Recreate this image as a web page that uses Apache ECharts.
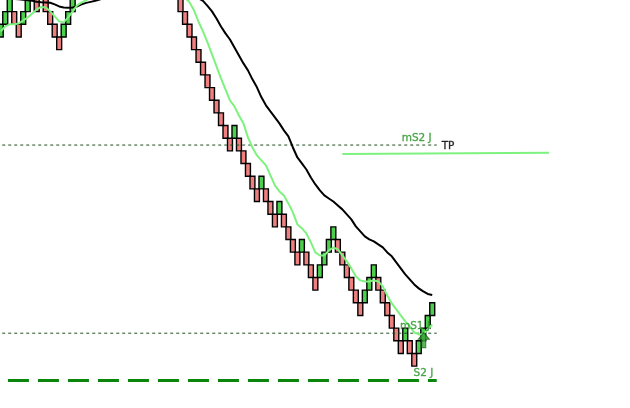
<!DOCTYPE html>
<html><head><meta charset="utf-8">
<script src="https://cdn.jsdelivr.net/npm/echarts@6/dist/echarts.min.js"></script>
<style>html,body{margin:0;padding:0;background:#fff;}#c{width:630px;height:408px;}</style>
</head><body><div id="c"></div>
<script>
// Renko bricks: bottom level of each brick (in brick units) and direction (G up / R down)
const brickLevel = [
  26,27,28,27,26,27,28,29,28,29,28,27,26,25,26,27,28,
  29,30,31,30,31,32,33,32,31,32,33,32,31,30,31,30,31,30,31,30,31,30,29,
  28,27,26,25,24,23,22,21,20,19,18,17,18,17,16,15,14,13,14,13,12,11,12,11,10,9,8,9,8,7,6,7,8,9,10,9,8,7,6,5,4,5,6,7,6,5,4,3,2,1,2,1,0,1,2,3,4
];
const brickDir = (
  'GGGRRGGGRGRRRRGGG' +
  'GGGRGGGRRGGRRRGRGRGRGRR' +
  'RRRRRRRRRRRRGRRRRRGRRRGRRRRGRRRGGGGRRRRRRGGGRRRRRRGRRGGGG'
).split('');
// fast moving average (light green)
const fastLine = [
  26.44,26.83,27.0,27.0,27.07,27.3,27.54,27.86,28.17,28.37,28.33,28.02,27.62,27.23,27.15,27.54,28.02,28.49,28.73,28.89,
  29.2,29.5,29.9,30.3,30.6,30.9,31.2,31.5,31.7,31.8,31.8,31.6,31.4,31.1,30.9,30.7,30.5,30.2,30.0,29.8,29.5,29.1,
  28.73,28.1,27.2,26.44,25.57,24.62,23.67,22.72,21.85,20.99,20.51,19.8,19.17,18.06,17.27,16.64,16.25,15.85,15.06,14.27,
  13.8,13.48,12.85,12.14,11.19,10.88,10.48,9.77,8.98,8.74,8.74,9.14,9.37,9.22,8.74,8.27,7.72,7.09,6.77,6.69,
  6.69,6.77,6.69,6.3,5.58,4.95,4.48,4.0,3.53,3.14,2.66,2.5,2.5,2.9,3.29
];
// slow moving average (black)
const slowLine = [
  29.3,29.2,29.1,29.0,
  28.97,28.93,28.89,28.85,28.78,28.74,28.73,28.7,28.57,28.41,28.33,28.31,28.33,28.41,28.57,28.69,28.77,28.85,28.95,
  29.1,29.3,29.5,29.7,29.9,30.1,30.3,30.5,30.6,30.7,30.8,30.8,30.8,30.7,30.6,30.5,30.3,30.1,29.9,29.6,29.3,29.05,
  28.85,28.45,28.02,27.46,26.83,26.28,25.8,25.17,24.54,23.91,23.36,22.65,22.02,21.23,20.6,20.12,19.65,19.17,18.62,18.15,
  17.27,16.48,16.01,15.53,14.9,14.35,13.88,13.48,13.24,13.0,12.69,12.38,11.98,11.59,11.04,10.64,10.25,10.01,9.85,9.61,
  9.38,8.98,8.67,8.19,7.72,7.25,6.85,6.45,6.14,5.9,5.7,5.62
];
// horizontal levels
const levelMS2 = 17.46;
const levelMS1 = 2.6;
const levelS2 = -1.14;
const levelTP = [16.75, 16.85];
const tpRange = [76, 122];
const levelEnd = 97;
const labelTexts = ['mS2 J', 'TP', 'mS1 J', 'S2 J'];
const buySignal = [94.13, 2.04];

const GREEN_FILL = '#4ccf4c', RED_FILL = '#f08080';
const bricks = brickLevel.map((lv, i) => [i, lv, brickDir[i] === 'G' ? 1 : 0]);

const chart = echarts.init(document.getElementById('c'), null, {renderer: 'canvas'});
const textGreen = '#2a962a';
const labelFont = {fontFamily: 'DejaVu Sans', fontSize: 10.5};

function lbl(text, color, align) {
  return {formatter: text, align: align, color: color, textBorderColor: color, textBorderWidth: 0.35};
}

chart.setOption({
  animation: false,
  backgroundColor: '#fff',
  grid: {left: 0, right: 0, top: 0, bottom: 0},
  xAxis: {type: 'value', min: -0.165, max: 140, show: false},
  yAxis: {type: 'value', min: -3.309, max: 28.918, show: false},
  series: [
    { type: 'custom', z: 2, silent: true, clip: true,
      data: bricks,
      renderItem(params, api) {
        const i = api.value(0), lo = api.value(1), up = api.value(2);
        const p0 = api.coord([i - 0.55, lo + 1]);
        const p1 = api.coord([i + 0.55, lo]);
        return {type: 'rect',
          shape: {x: p0[0], y: p0[1], width: p1[0] - p0[0], height: p1[1] - p0[1]},
          style: {fill: up ? GREEN_FILL : RED_FILL, stroke: '#000', lineWidth: 1.4}};
      }
    },
    { type: 'line', z: 3, silent: true, showSymbol: false, symbol: 'none',
      data: [[-1, levelMS2], [levelEnd, levelMS2]],
      lineStyle: {color: '#1d4d1d', width: 1, type: [3, 3]} },
    { type: 'line', z: 3, silent: true, showSymbol: false, symbol: 'none',
      data: [[-1, levelMS1], [levelEnd, levelMS1]],
      lineStyle: {color: '#1d4d1d', width: 1, type: [3, 3]} },
    { type: 'line', z: 3, silent: true, showSymbol: false, symbol: 'none',
      data: [[1.6, levelS2], [levelEnd, levelS2]],
      lineStyle: {color: '#0a870a', width: 3, type: [21, 9]} },
    { type: 'line', z: 3, silent: true, showSymbol: false, symbol: 'none',
      data: [[tpRange[0], levelTP[0]], [tpRange[1], levelTP[1]]],
      lineStyle: {color: '#7ef27e', width: 2} },
    { type: 'line', z: 4, silent: true, showSymbol: false, symbol: 'none',
      data: slowLine.map((v, i) => [i, v]),
      lineStyle: {color: '#000', width: 2} },
    { type: 'line', z: 5, silent: true, showSymbol: false, symbol: 'none',
      data: fastLine.map((v, i) => [i, v]),
      lineStyle: {color: '#7ef27e', width: 2} },
    { type: 'scatter', z: 6, silent: true,
      symbol: 'path://M5.5,0 L11,6 L7.5,6 L7.5,14 L3.5,14 L3.5,6 L0,6 Z',
      symbolSize: [11, 15],
      itemStyle: {color: '#35a335', borderColor: '#1a5e1a', borderWidth: 1},
      data: [buySignal] },
    { type: 'scatter', z: 7, silent: true, symbolSize: 0,
      data: [
        {value: [95.88, 17.96], label: lbl(labelTexts[0], textGreen, 'right')},
        {value: [98.1, 17.33], label: lbl(labelTexts[1], '#000', 'left')},
        {value: [95.5, 3.15], label: lbl(labelTexts[2], textGreen, 'right')},
        {value: [96.24, -0.6], label: lbl(labelTexts[3], textGreen, 'right')}
      ],
      label: Object.assign({show: true, position: [0, 0], verticalAlign: 'middle'}, labelFont)
    }
  ]
});
</script></body></html>
